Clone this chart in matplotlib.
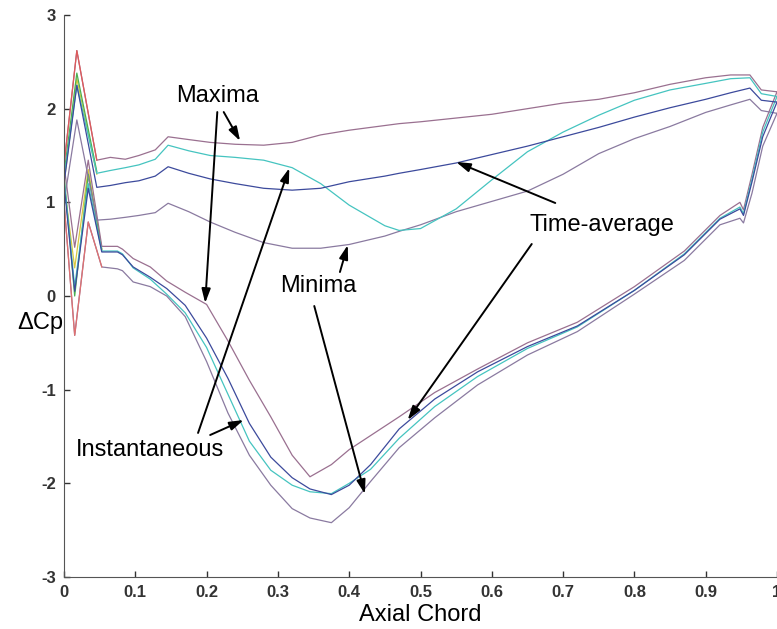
import matplotlib
matplotlib.use('Agg')
import matplotlib.pyplot as plt

plt.rcParams['font.family'] = ['Liberation Sans', 'DejaVu Sans']

# 上表面 (upper branch) 座標
x_top = [0, 0.018, 0.046, 0.065, 0.086, 0.105, 0.128, 0.146, 0.175, 0.205, 0.24, 0.28, 0.32,
         0.36, 0.40, 0.45, 0.47, 0.50, 0.55, 0.60, 0.65, 0.70, 0.75, 0.80, 0.85, 0.90, 0.935,
         0.962, 0.978, 1.0]
max_top = [1.40, 2.62, 1.45, 1.48, 1.46, 1.50, 1.56, 1.70, 1.67, 1.64, 1.62, 1.61, 1.64,
           1.72, 1.77, 1.82, 1.84, 1.86, 1.90, 1.94, 2.00, 2.06, 2.10, 2.17, 2.26, 2.33, 2.36,
           2.36, 2.20, 2.18]
inst_top = [1.25, 2.25, 1.31, 1.34, 1.37, 1.40, 1.46, 1.61, 1.55, 1.50, 1.48, 1.45, 1.37,
            1.20, 0.97, 0.75, 0.70, 0.72, 0.93, 1.24, 1.54, 1.75, 1.93, 2.09, 2.20, 2.27, 2.32,
            2.33, 2.16, 2.13]
mean_top = [1.20, 2.25, 1.16, 1.18, 1.21, 1.23, 1.28, 1.38, 1.31, 1.25, 1.20, 1.15, 1.13,
            1.15, 1.22, 1.28, 1.31, 1.35, 1.42, 1.51, 1.60, 1.70, 1.80, 1.91, 2.01, 2.10, 2.17,
            2.22, 2.09, 2.07]
min_top = [1.00, 1.88, 0.81, 0.82, 0.84, 0.86, 0.89, 0.99, 0.90, 0.79, 0.68, 0.57, 0.51,
           0.51, 0.55, 0.64, 0.69, 0.76, 0.90, 1.01, 1.12, 1.30, 1.52, 1.68, 1.81, 1.96, 2.04,
           2.10, 1.98, 1.95]

# 下表面 (lower branch) 座標
x_bot = [0, 0.015, 0.034, 0.053, 0.075, 0.082, 0.097, 0.121, 0.144, 0.17, 0.20, 0.23, 0.26,
         0.29, 0.32, 0.345, 0.375, 0.40, 0.43, 0.47, 0.52, 0.58, 0.65, 0.72, 0.80, 0.87, 0.92,
         0.948, 0.953, 0.965, 0.98, 1.0]
max_bot = [1.40, 0.52, 1.45, 0.53, 0.53, 0.50, 0.40, 0.31, 0.16, 0.04, -0.09, -0.48, -0.90,
           -1.29, -1.70, -1.93, -1.80, -1.64, -1.49, -1.29, -1.03, -0.78, -0.50, -0.28, 0.10,
           0.48, 0.86, 1.00, 0.92, 1.30, 1.80, 2.18]
inst_bot = [1.25, 0.10, 1.20, 0.48, 0.48, 0.45, 0.30, 0.18, 0.02, -0.18, -0.55, -1.05, -1.55,
            -1.86, -2.02, -2.09, -2.11, -2.00, -1.85, -1.52, -1.18, -0.86, -0.56, -0.33, 0.06,
            0.45, 0.83, 0.95, 0.88, 1.25, 1.75, 2.13]
mean_bot = [1.20, 0.05, 1.15, 0.47, 0.47, 0.44, 0.31, 0.20, 0.08, -0.10, -0.45, -0.88, -1.36,
            -1.72, -1.94, -2.06, -2.12, -2.02, -1.80, -1.42, -1.10, -0.81, -0.54, -0.32, 0.06,
            0.44, 0.82, 0.93, 0.86, 1.22, 1.70, 2.07]
min_bot = [1.00, -0.42, 0.79, 0.31, 0.29, 0.27, 0.15, 0.10, 0.00, -0.22, -0.70, -1.25, -1.70,
           -2.02, -2.27, -2.37, -2.42, -2.26, -1.98, -1.62, -1.30, -0.95, -0.63, -0.38, 0.02,
           0.38, 0.76, 0.83, 0.78, 1.10, 1.60, 1.95]

# 前緣其他瞬時曲線
x_le_top = [0, 0.018, 0.046]
x_le_bot = [0, 0.015, 0.034, 0.053]
green_top = [1.30, 2.38, 1.33]
green_bot = [1.30, 0.00, 1.30, 0.50]
yellow_top = [1.20, 2.32, 1.30]
yellow_bot = [1.20, 0.30, 1.35, 0.50]

fig = plt.figure(figsize=(7.77, 6.29), dpi=100)
ax = fig.add_axes([64 / 777, 52 / 629, 713 / 777, 562 / 629])

lw = 0.9
ax.plot(x_le_top, yellow_top, color='#d8c840', lw=lw)
ax.plot(x_le_bot, yellow_bot, color='#d8c840', lw=lw)
ax.plot(x_le_top, green_top, color='#4caf50', lw=lw)
ax.plot(x_le_bot, green_bot, color='#4caf50', lw=lw)

for xs, ys, c in [(x_top, max_top, '#9a7090'), (x_bot, max_bot, '#9a7090'),
                  (x_top, min_top, '#8a7aa0'), (x_bot, min_bot, '#8a7aa0'),
                  (x_top, inst_top, '#45c4c0'), (x_bot, inst_bot, '#45c4c0'),
                  (x_top, mean_top, '#3c4a9c'), (x_bot, mean_bot, '#3c4a9c')]:
    ax.plot(xs, ys, color=c, lw=lw)

# 前緣紅線
ax.plot(x_le_top, [max_top[0], max_top[1], max_top[2]], color='#e05a5a', lw=lw)
ax.plot(x_le_bot, [min_bot[0], min_bot[1], min_bot[2], min_bot[3]], color='#e07070', lw=lw)

ax.set_xlim(0, 1)
ax.set_ylim(-3, 3)
ax.set_xticks([0, 0.1, 0.2, 0.3, 0.4, 0.5, 0.6, 0.7, 0.8, 0.9, 1])
ax.set_xticklabels(['0', '0.1', '0.2', '0.3', '0.4', '0.5', '0.6', '0.7', '0.8', '0.9', '1'])
ax.set_yticks([-3, -2, -1, 0, 1, 2, 3])
ax.set_yticklabels(['-3', '-2', '-1', '0', '1', '2', '3'])
ax.tick_params(direction='in', length=4, width=1, labelsize=12, colors='#333333', pad=6)
for lab in ax.get_xticklabels() + ax.get_yticklabels():
    lab.set_fontweight('bold')
ax.spines['top'].set_visible(False)
ax.spines['right'].set_visible(False)
ax.spines['left'].set_color('#555555')
ax.spines['bottom'].set_color('#555555')

fig.text(40 / 777, 1 - 323 / 629, 'ΔCp', ha='center', va='center', fontsize=17)
fig.text(420 / 777, 1 - 615 / 629, 'Axial Chord', ha='center', va='center', fontsize=17)

ap = dict(arrowstyle='-|>,head_length=0.7,head_width=0.22', color='black', lw=1.4,
          mutation_scale=12, shrinkA=0, shrinkB=0)
ax.text(0.215, 2.135, 'Maxima', ha='center', va='center', fontsize=17)
ax.annotate('', xy=(0.247, 1.655), xytext=(0.224, 1.964), arrowprops=ap)
ax.annotate('', xy=(0.198, -0.075), xytext=(0.215, 1.964), arrowprops=ap)

ax.text(0.121, -1.644, 'Instantaneous', ha='center', va='center', fontsize=17)
ax.annotate('', xy=(0.316, 1.366), xytext=(0.188, -1.462), arrowprops=ap)
ax.annotate('', xy=(0.252, -1.324), xytext=(0.205, -1.484), arrowprops=ap)

ax.text(0.356, 0.107, 'Minima', ha='center', va='center', fontsize=17)
ax.annotate('', xy=(0.398, 0.544), xytext=(0.387, 0.256), arrowprops=ap)
ax.annotate('', xy=(0.422, -2.114), xytext=(0.351, -0.107), arrowprops=ap)

ax.text(0.755, 0.758, 'Time-average', ha='center', va='center', fontsize=17)
ax.annotate('', xy=(0.550, 1.431), xytext=(0.689, 0.993), arrowprops=ap)
ax.annotate('', xy=(0.482, -1.324), xytext=(0.656, 0.555), arrowprops=ap)

fig.savefig('out.png', dpi=100)
